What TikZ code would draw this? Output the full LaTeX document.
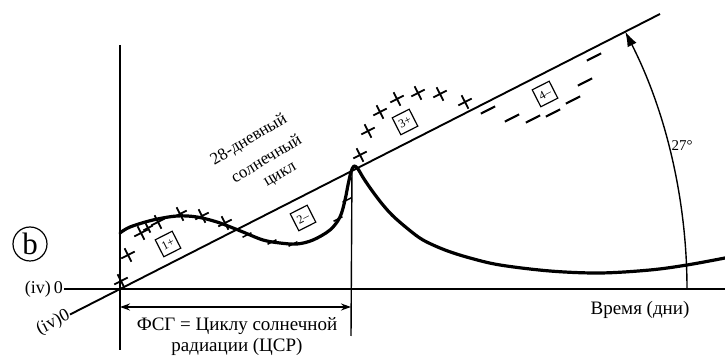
\documentclass[tikz,border=0pt]{standalone}
\usepackage{fontspec}
\setmainfont{Liberation Serif}
\usetikzlibrary{arrows.meta}
\begin{document}
\begin{tikzpicture}[x=1pt,y=1pt,
  axis/.style={line width=1.4pt},
  diag/.style={line width=1.9pt},
  curve/.style={line width=3.2pt, line join=round, line cap=round},
  lbl/.style={font=\fontsize{18}{21}\selectfont, inner sep=1pt},
  cyc/.style={font=\fontsize{17}{17}\selectfont, inner sep=1pt, rotate=31},
  box/.style={draw, line width=1.2pt, fill=white, minimum size=19pt, inner sep=0.5pt,
    rotate=27, font=\fontsize{12}{12}\selectfont},
  plusmark/.pic={\draw[line width=1.8pt] (-7.5,0)--(7.5,0) (0,-7.5)--(0,7.5);},
  minusmark/.pic={\draw[line width=2.1pt] (-8,0)--(8,0);},
  tickmark/.pic={\draw[line width=1.5pt] (-5,0)--(5,0);}
]
\useasboundingbox (0,0) rectangle (725,358);

% key points
\coordinate (O) at (120,69);
\coordinate (Hend) at (725,69);
\coordinate (Dend) at (660,344);
\coordinate (Vtop) at (120,313);
\coordinate (Vbot) at (120,8);
\coordinate (P) at (352,190);
\coordinate (Pbot) at (351,22);
\coordinate (A1) at (120,51);
\coordinate (A2) at (351,51);
\coordinate (R0) at (687,69);

% labels on the axes
\node[lbl, anchor=east] (lh) at (64,69) {(iv)\,0};
\node[lbl, anchor=east, rotate=27] (ld) at (70,43.5) {(iv)0};

% axes
\draw[axis] (lh.east) -- (Hend);
\draw[diag] (ld.east) -- (Dend);
\draw[axis] (Vtop) -- (Vbot);
\draw[axis] (P) -- (Pbot);

% angle arc
\draw[axis, -{Latex[length=15pt,width=10pt]}] (R0) arc[start angle=0, end angle=27, radius=567];
\node[font=\fontsize{15}{15}\selectfont] (ang) at (682,212) {27°};

% interval arrow
\draw[axis, {Stealth[length=10pt,width=7pt]}-{Stealth[length=10pt,width=7pt]}] (A1) -- (A2);
\node[lbl, align=center, font=\fontsize{19}{21}\selectfont] (fsg) at (237,21) {ФСГ = Циклу солнечной\\радиации (ЦСР)};
\node[lbl, font=\fontsize{19}{21}\selectfont] (time) at (640,48) {Время (дни)};

% circled b
\node[draw, circle, line width=1.2pt, minimum size=34pt, inner sep=0pt,
  font=\fontsize{31}{31}\selectfont] (b) at (30,114) {b};

% solar cycle text
\node[cyc] (t1) at (249,218) {28-дневный};
\node[cyc] (t2) at (266,200) {солнечный};
\node[cyc] (t3) at (281,182) {цикл};

% the curve
\draw[curve] plot[smooth, tension=0.55] coordinates {
 (120,125) (130,131) (153,138) (177,142) (197,141) (217,136) (233,130) (243,126)
 (263,118) (280,115) (297,114) (313,118) (330,128) (340,141) (345,158) (348,173)
 (351,186) (354,192) (358,189) (364,179) (373,166) (383,153) (393,142) (408,129)
 (423,118) (445,108) (470,100) (500,93) (550,87) (600,85) (650,88) (687,93) (725,100)};

% plus marks
\foreach \p in {(121,77),(128,103),(141,125),(158,136),(180,144),(202,142),(225,135),
  (360,203),(368,227),(380,246),(397,259),(418,265),(440,264),(465,256)}
  \pic[rotate=27] at \p {plusmark};
\pic[rotate=27, scale=0.7] at (148,130) {plusmark};

% minus marks
\foreach \p in {(488,248),(512,240),(533,239),(553,245),(573,258),(585,276),(594,301)}
  \pic[rotate=27] at \p {minusmark};
\foreach \p in {(247,123),(272,116),(293,114),(338,139),(347,158)}
  \pic[rotate=27] at \p {tickmark};

% boxes
\node[box] (b1) at (168,114) {1+};
\node[box] (b2) at (303,140) {2–};
\node[box] (b3) at (405,236) {3+};
\node[box] (b4) at (545,264) {4–};
\end{tikzpicture}
\end{document}
